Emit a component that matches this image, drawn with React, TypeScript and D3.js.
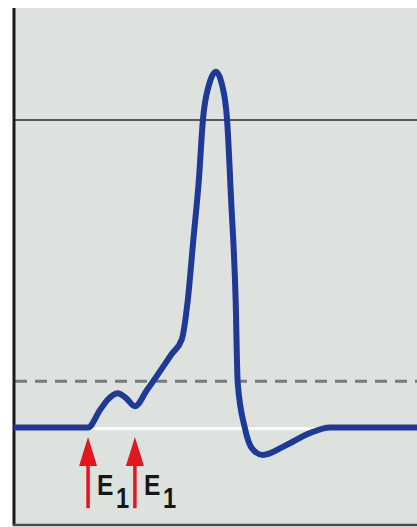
import React from "react";
import * as d3 from "d3";

// Membrane potential trace (time in ms, potential in mV)
const timeMs = [0, 1.47, 1.71, 1.85, 2.06, 2.22, 2.4, 2.64, 2.9, 3.13, 3.33, 3.45, 3.56, 3.67, 3.75, 3.87, 4.01, 4.13, 4.23, 4.31, 4.4, 4.44, 4.58, 4.72, 4.94, 5.38, 5.87, 6.27, 8];
const voltageMv = [-70, -70, -66, -63.8, -62.2, -63.3, -65.2, -61.5, -57.2, -53.3, -50, -41, -27.3, -13.6, 0, 8, 11, 8, 0, -18.2, -41, -59.7, -70, -74.7, -76.3, -74.2, -71.3, -70, -70];

const restingMv = -70;
const thresholdMv = -59.5;
const referenceMv = 0;
const stimulusTimes = [1.47, 2.4];
const stimulusLabels = ["E", "E"];
const stimulusSub = ["1", "1"];

const W = 417;
const H = 527;

export default function App() {
  const x = d3.scaleLinear().domain([0, 8]).range([14, 417]);
  const y = d3.scaleLinear().domain([-92, 25.5]).range([524, 8]);
  const pts: [number, number][] = timeMs.map((t, i) => [t, voltageMv[i]]);
  const line = d3
    .line<[number, number]>()
    .x((d) => x(d[0]))
    .y((d) => y(d[1]))
    .curve(d3.curveMonotoneX);

  const arrowTop = y(-72.2);
  const arrowBottom = y(-88.4);
  const font = "'Liberation Sans', Arial, Helvetica, sans-serif";

  return (
    <svg width={W} height={H} style={{ position: "absolute", left: 0, top: 0 }}>
      <rect x={0} y={0} width={W} height={H} fill="#ffffff" />
      <rect x={15} y={8} width={W - 15} height={516} fill="#dee2df" />
      {/* 0 mV reference */}
      <line x1={15} x2={W} y1={y(referenceMv)} y2={y(referenceMv)} stroke="#2a2a2a" strokeWidth={1.5} />
      {/* threshold */}
      <line x1={15} x2={W} y1={y(thresholdMv)} y2={y(thresholdMv)} stroke="#7a7c7b" strokeWidth={3} strokeDasharray="12 8" />
      {/* resting */}
      <line x1={x(stimulusTimes[0])} x2={W} y1={y(restingMv) + 1} y2={y(restingMv) + 1} stroke="#ffffff" strokeWidth={3} />
      {/* axes */}
      <line x1={14} x2={14} y1={8} y2={526} stroke="#1a1a1a" strokeWidth={3} />
      <line x1={13} x2={W} y1={525} y2={525} stroke="#4a4c4b" strokeWidth={2.5} />
      {/* trace */}
      <path d={line(pts) || ""} fill="none" stroke="#1d3a98" strokeWidth={6} strokeLinejoin="round" />
      {/* stimuli */}
      {stimulusTimes.map((t, i) => {
        const cx = x(t);
        return (
          <g key={i}>
            <line x1={cx} x2={cx} y1={arrowTop + 20} y2={arrowBottom} stroke="#e3161d" strokeWidth={3.5} />
            <path d={`M${cx},${arrowTop} L${cx + 9},${arrowTop + 29} L${cx - 9},${arrowTop + 29} Z`} fill="#e3161d" />
            <text
              x={cx + 9}
              y={arrowTop + 58}
              fontFamily={font}
              fontWeight="bold"
              fontSize={30}
              fill="#161616"
              transform={`translate(${cx + 9},0) scale(0.82,1) translate(${-(cx + 9)},0)`}
            >
              {stimulusLabels[i]}
            </text>
            <text
              x={cx + 28}
              y={arrowTop + 71}
              fontFamily={font}
              fontWeight="bold"
              fontSize={29}
              fill="#161616"
              transform={`translate(${cx + 28},0) scale(0.82,1) translate(${-(cx + 28)},0)`}
            >
              {stimulusSub[i]}
            </text>
          </g>
        );
      })}
    </svg>
  );
}
